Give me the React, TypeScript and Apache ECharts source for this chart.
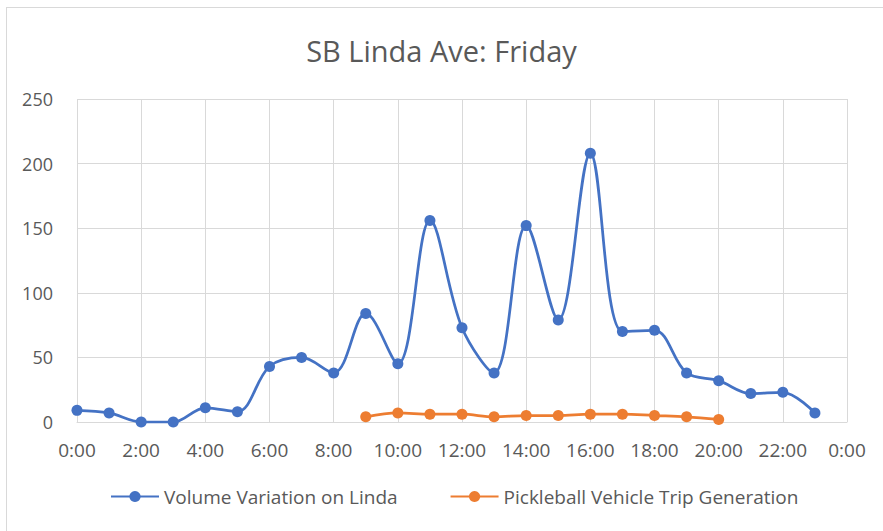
import React, { useEffect, useRef } from "react";
import * as echarts from "echarts";

const hours = [0, 1, 2, 3, 4, 5, 6, 7, 8, 9, 10, 11, 12, 13, 14, 15, 16, 17, 18, 19, 20, 21, 22, 23];
const volumeLinda = [9, 7, 0, 0, 11, 8, 43, 50, 38, 84, 45, 156, 73, 38, 152, 79, 208, 70, 71, 38, 32, 22, 23, 7];
const pickleHours = [9, 10, 11, 12, 13, 14, 15, 16, 17, 18, 19, 20];
const pickleTrips = [4, 7, 6, 6, 4, 5, 5, 6, 6, 5, 4, 2];
const titleText = "SB Linda Ave: Friday";
const seriesNames = ["Volume Variation on Linda", "Pickleball Vehicle Trip Generation"];

export default function App() {
  const ref = useRef<HTMLDivElement>(null);
  useEffect(() => {
    if (!ref.current) return;
    const chart = echarts.init(ref.current, undefined, { renderer: "svg" });
    const font = "'Open Sans', 'Noto Sans', sans-serif";
    chart.setOption({
      animation: false,
      backgroundColor: "transparent",
      title: {
        text: titleText,
        left: "center",
        top: 31,
        textStyle: { fontFamily: font, fontSize: 29, fontWeight: "normal", color: "#595959" },
      },
      legend: {
        bottom: 20,
        left: 105,
        itemGap: 52,
        itemWidth: 48,
        itemHeight: 14,
        textStyle: { fontFamily: font, fontSize: 19, color: "#595959" },
        data: seriesNames,
      },
      grid: { left: 77, right: 36, top: 99, bottom: 109 },
      xAxis: {
        type: "value",
        min: 0,
        max: 24,
        interval: 2,
        axisLine: { show: true, lineStyle: { color: "#d9d9d9" } },
        axisTick: { show: false },
        splitLine: { show: true, lineStyle: { color: "#d9d9d9" } },
        axisLabel: {
          margin: 18,
          fontFamily: font,
          fontSize: 19,
          color: "#595959",
          formatter: (v: number) => `${v % 24}:00`,
        },
      },
      yAxis: {
        type: "value",
        min: 0,
        max: 250,
        interval: 50,
        axisLine: { show: false },
        axisTick: { show: false },
        splitLine: { show: true, lineStyle: { color: "#d9d9d9" } },
        axisLabel: { margin: 24, fontFamily: font, fontSize: 18, color: "#595959" },
      },
      series: [
        {
          name: seriesNames[0],
          type: "line",
          smooth: 0.35,
          data: hours.map((h, i) => [h, volumeLinda[i]]),
          symbol: "circle",
          symbolSize: 11,
          lineStyle: { color: "#4472C4", width: 2.75 },
          itemStyle: { color: "#4472C4" },
        },
        {
          name: seriesNames[1],
          type: "line",
          smooth: 0.35,
          data: pickleHours.map((h, i) => [h, pickleTrips[i]]),
          symbol: "circle",
          symbolSize: 11,
          lineStyle: { color: "#ED7D31", width: 2.75 },
          itemStyle: { color: "#ED7D31" },
        },
      ],
    });
    return () => chart.dispose();
  }, []);
  return (
    <div
      style={{
        position: "absolute",
        left: 0,
        top: 0,
        width: 883,
        height: 531,
        background: "#fff",
        overflow: "hidden",
      }}
    >
      <div
        style={{
          position: "absolute",
          left: 6,
          top: 7,
          width: 883,
          height: 531,
          border: "1px solid #d9d9d9",
          boxSizing: "border-box",
        }}
      />
      <div ref={ref} style={{ position: "absolute", left: 0, top: 0, width: 883, height: 531 }} />
    </div>
  );
}
